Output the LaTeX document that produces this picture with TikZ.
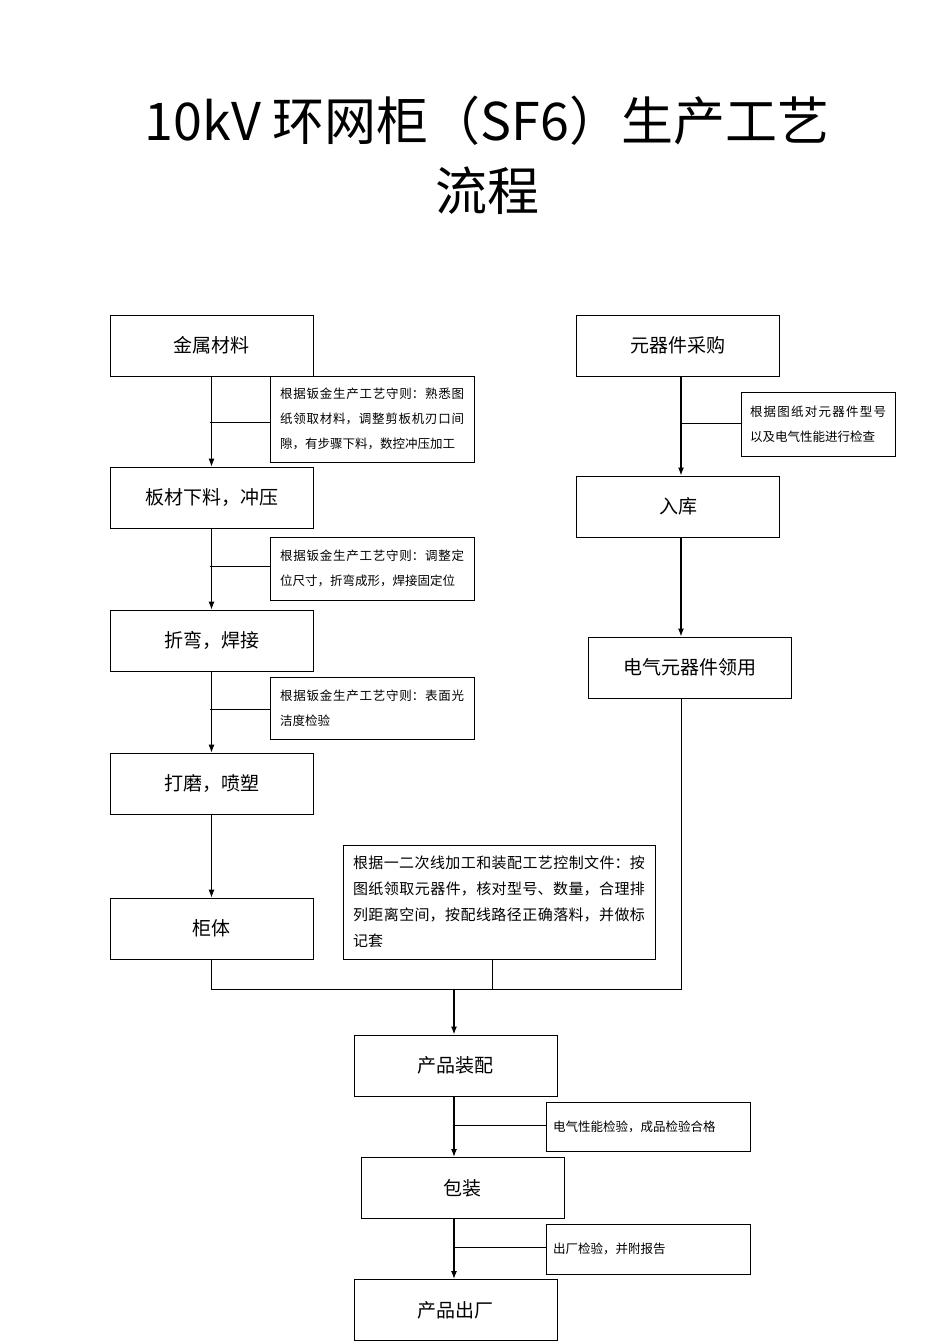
\documentclass[tikz,border=0pt]{standalone}
\usepackage{fontspec}
\setmainfont{Noto Sans CJK SC}
\XeTeXlinebreaklocale "zh"
\XeTeXlinebreakskip=0pt plus 1pt
\usetikzlibrary{arrows.meta}
\begin{document}
\begin{tikzpicture}[x=1pt,y=-1pt,
 box/.style={draw,line width=0.9pt,minimum width=203pt,minimum height=61pt,font=\fontsize{19}{22}\selectfont},
 note/.style={draw,line width=0.9pt,align=left,font=\fontsize{12.5}{25}\selectfont,inner sep=0pt},
 ln/.style={line width=0.9pt},
 ar/.style={line width=0.9pt,-{Latex[length=8pt,width=6pt]}},
 arb/.style={line width=1.4pt,-{Latex[length=8pt,width=6pt]}}]
\useasboundingbox (0,0) rectangle (950,1344);
\node[font=\fontsize{52}{70}\selectfont,align=center] (title) at (487,155) {10kV 环网柜（SF6）生产工艺\\流程};
\node[box] (a) at (211.5,345.5) {金属材料};
\node[box] (b) at (211.5,497.5) {板材下料，冲压};
\node[box] (c) at (211.5,640.5) {折弯，焊接};
\node[box] (d) at (211.5,783.5) {打磨，喷塑};
\node[box] (e) at (211.5,928.5) {柜体};
\node[box] (f) at (678,345.5) {元器件采购};
\node[box] (g) at (678,506.5) {入库};
\node[box] (h) at (690,667.5) {电气元器件领用};
\node[box] (i) at (455.5,1065.5) {产品装配};
\node[box] (j) at (462.5,1188) {包装};
\node[box] (k) at (455.5,1310) {产品出厂};
\node[note,minimum width=204pt,minimum height=86pt] (n1) at (372,419) {\parbox{184pt}{根据钣金生产工艺守则：熟悉图纸领取材料，调整剪板机刃口间隙，有步骤下料，数控冲压加工}};
\node[note,minimum width=204pt,minimum height=63pt] (n2) at (372,568.5) {\parbox{184pt}{根据钣金生产工艺守则：调整定位尺寸，折弯成形，焊接固定位}};
\node[note,minimum width=204pt,minimum height=62pt] (n3) at (372,708) {\parbox{184pt}{根据钣金生产工艺守则：表面光洁度检验}};
\node[note,minimum width=312pt,minimum height=114pt,font=\fontsize{15}{26}\selectfont] (n4) at (499,902) {\parbox{292pt}{根据一二次线加工和装配工艺控制文件：按图纸领取元器件，核对型号、数量，合理排列距离空间，按配线路径正确落料，并做标记套}};
\node[note,minimum width=154pt,minimum height=64pt] (n5) at (818,424) {\parbox{136pt}{根据图纸对元器件型号以及电气性能进行检查}};
\node[note,minimum width=204pt,minimum height=49pt] (n6) at (648,1126.5) {\parbox{190pt}{电气性能检验，成品检验合格}};
\node[note,minimum width=204pt,minimum height=50pt] (n7) at (648,1249) {\parbox{190pt}{出厂检验，并附报告}};
\draw[ar] (a) -- (b); \draw[ar] (b) -- (c); \draw[ar] (c) -- (d); \draw[ar] (d) -- (e);
\draw[ln] (210,422) -- (n1.west|-210,422);
\draw[ln] (210,566) -- (n2.west|-210,566);
\draw[ln] (210,709) -- (n3.west|-210,709);
\draw[arb] (f.south -| 681,0) -- (g.north -| 681,0);
\draw[arb] (g.south -| 681,0) -- (h.north -| 681,0);
\draw[ln] (681,423) -- (n5.west|-681,423);
\coordinate (m) at (454,989);
\draw[ln] (e.south) |- (m);
\draw[ln] (h.south -| 681,0) -- (681,989) -- (m);
\draw[ln] (n4.south -| 492,0) -- (492,989);
\draw[arb] (m) -- (i.north -| m);
\draw[arb] (i.south -| m) -- (j.north -| m);
\draw[arb] (j.south -| m) -- (k.north -| m);
\draw[ln] (454,1125) -- (n6.west|-454,1125);
\draw[ln] (454,1247) -- (n7.west|-454,1247);
\end{tikzpicture}
\end{document}
